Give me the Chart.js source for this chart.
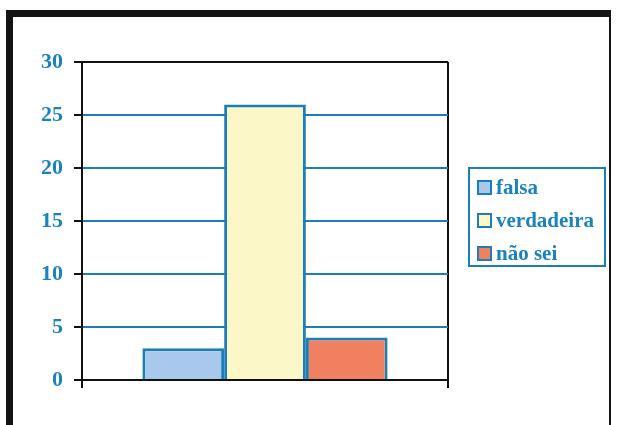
<!DOCTYPE html>
<html lang="pt">
<head>
<meta charset="UTF-8">
<title>falsa / verdadeira / não sei</title>
<script src="https://cdn.jsdelivr.net/npm/chart.js"></script>
<style>
    html, body { margin: 0; padding: 0; background: #fff; }
    .page { position: relative; width: 617px; height: 425px; overflow: hidden; }
    .frame {
        position: absolute; left: 6px; top: 10px; width: 596px; height: 440px;
        border-left: 7px solid #141414; border-top: 7px solid #141414; border-right: 2px solid #141414;
    }
    .chart-box { position: absolute; left: 0; top: 0; width: 617px; height: 425px; }
    .legend {
        position: absolute; left: 468px; top: 167px; width: 134px; height: 96px;
        border: 2px solid #1b7fb6; font-family: 'Liberation Serif', 'Times New Roman', serif;
        font-weight: bold; font-size: 21px; color: #1a82bd;
    }
    .legend div { position: absolute; left: 7px; white-space: nowrap; line-height: 20px; }
    .legend span.sw {
        display: inline-block; width: 11px; height: 11px; border: 2px solid #1b7fb6;
        margin-right: 4px; vertical-align: -1px;
    }
</style>
</head>
<body>
<div class="page">
    <div class="frame"></div>
    <div class="chart-box"><canvas id="grafico" width="617" height="425"></canvas></div>
    <div class="legend" id="legenda"></div>
</div>
<script>
// dados
const categorias = [''];
const series = ['falsa', 'verdadeira', 'não sei'];
const valores = [3, 26, 4];
const cores = ['#a9c9ec', '#fcf7c6', '#f0805f'];
const ticksY = [0, 5, 10, 15, 20, 25, 30];

const azul = '#1b7fb6';
const azulTexto = '#1a82bd';

const datasets = series.map((nome, i) => ({
    label: nome,
    data: [valores[i]],
    backgroundColor: cores[i],
    borderColor: azul,
    borderWidth: 3,
    categoryPercentage: 0.67,
    barPercentage: 1
}));

new Chart(document.getElementById('grafico'), {
    type: 'bar',
    data: { labels: categorias, datasets: datasets },
    options: {
        responsive: false,
        animation: false,
        devicePixelRatio: 1,
        layout: { padding: { left: 0, top: 62, right: 169, bottom: 37 } },
        plugins: { legend: { display: false }, tooltip: { enabled: false } },
        scales: {
            x: {
                offset: true,
                grid: { offset: true, color: '#111', lineWidth: 2, tickLength: 8, tickColor: '#111' },
                border: { display: true, color: '#111', width: 2 },
                ticks: { display: false }
            },
            y: {
                min: 0, max: 30,
                afterBuildTicks: s => { s.ticks = ticksY.map(v => ({ value: v })); },
                afterFit: s => { s.width = 82; },
                grid: {
                    color: c => (c.tick && (c.tick.value === 0 || c.tick.value === 30)) ? '#111' : azul,
                    lineWidth: 2, tickLength: 8, tickColor: '#111'
                },
                border: { display: true, color: '#111', width: 2 },
                ticks: {
                    color: azulTexto, padding: 11,
                    font: { family: "'Liberation Serif', 'Times New Roman', serif", weight: 'bold', size: 22 }
                }
            }
        }
    }
});

// legenda
const legenda = document.getElementById('legenda');
series.forEach((nome, i) => {
    const item = document.createElement('div');
    item.style.top = (8 + i * 33) + 'px';
    item.innerHTML = '<span class="sw" style="background:' + cores[i] + '"></span>' + nome;
    legenda.appendChild(item);
});
</script>
</body>
</html>
